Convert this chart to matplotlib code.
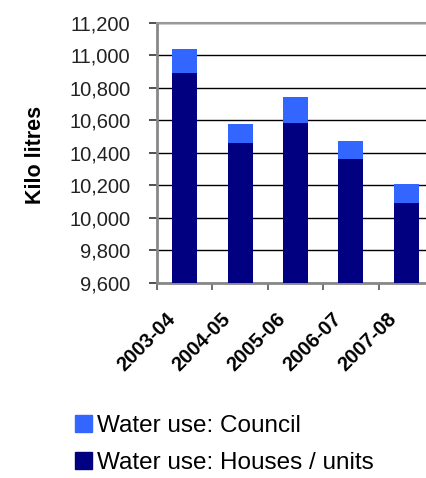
import matplotlib
matplotlib.use("Agg")
import matplotlib.pyplot as plt
from matplotlib.patches import Patch
from matplotlib.ticker import FuncFormatter, MultipleLocator
import numpy as np

years = ["2003-04", "2004-05", "2005-06", "2006-07", "2007-08"]
houses_units = [10890, 10460, 10580, 10360, 10090]
council = [150, 115, 165, 115, 115]

HOUSES_COLOR = "#000080"
COUNCIL_COLOR = "#3366FF"

plt.rcParams["font.family"] = ["Liberation Sans", "DejaVu Sans"]

fig = plt.figure(figsize=(4.27, 4.78), dpi=100)
# plot area runs past the right edge of the canvas
ax = fig.add_axes([157 / 427, 195.3 / 478, 277 / 427, 260 / 478])

x = np.arange(len(years))
ax.bar(x, houses_units, width=0.45, color=HOUSES_COLOR, zorder=3)
ax.bar(x, council, width=0.45, bottom=houses_units, color=COUNCIL_COLOR, zorder=3)

ax.set_xlim(-0.5, len(years) - 0.5)
ax.set_ylim(9600, 11200)
ax.yaxis.set_major_locator(MultipleLocator(200))
ax.yaxis.set_major_formatter(FuncFormatter(lambda v, _: f"{v:,.0f}"))
ax.grid(axis="y", color="black", linewidth=1, zorder=1)

# tick marks on the category boundaries, slanted labels below each bar
ax.set_xticks(x - 0.5)
ax.set_xticklabels([])
ax.tick_params(axis="x", length=5, width=1.2, color="#555555")
for xi, year in zip(x, years):
    ax.annotate(year, xy=(xi, 0), xycoords=("data", "axes fraction"),
                xytext=(-9, -24), textcoords="offset points",
                rotation=45, rotation_mode="anchor", ha="right", va="center",
                fontsize=14.5, fontweight="bold", annotation_clip=False)

ax.tick_params(axis="y", length=6, width=1.2, color="#333333", labelsize=14.5,
               labelcolor="#222222", pad=13)

for side in ("left", "bottom"):
    ax.spines[side].set_color("#888888")
    ax.spines[side].set_linewidth(2)
ax.spines["top"].set_color("#999999")
ax.spines["top"].set_linewidth(1.5)
ax.spines["right"].set_visible(False)

ax.set_ylabel("Kilo litres", fontsize=15.5, fontweight="bold")
ax.yaxis.set_label_coords((46 - 157) / 277, (282.7 - 155) / 260)

handles = [Patch(color=COUNCIL_COLOR, label="Water use: Council"),
           Patch(color=HOUSES_COLOR, label="Water use: Houses / units")]
fig.legend(handles=handles, loc="upper left", bbox_to_anchor=(75 / 427, 1 - 415 / 478),
           frameon=False, fontsize=17.5, handlelength=0.72, handleheight=0.72,
           handletextpad=0.2, labelspacing=0.6, borderaxespad=0, borderpad=0)

fig.savefig("out.png", dpi=100)
